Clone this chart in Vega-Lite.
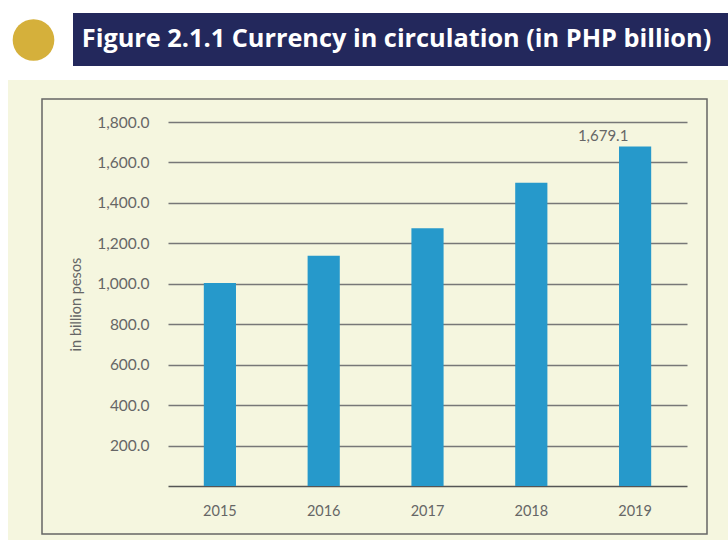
{
  "$schema": "https://vega.github.io/schema/vega-lite/v6.json",
  "background": "#f5f6df",
  "padding": 0,
  "spacing": 0,
  "config": {"view": {"stroke": null}, "font": "Lato"},
  "vconcat": [
    {
      "spacing": 0,
      "hconcat": [
        {
          "data": {"values": [{"item": "marker"}]},
          "mark": {"type": "point", "shape": "circle", "filled": true, "color": "#d5b03b", "opacity": 1, "size": 1735},
          "width": 67,
          "height": 80,
          "view": {"fill": "white", "stroke": null}
        },
        {
          "spacing": 0,
          "vconcat": [
            {
              "data": {"values": [{}]},
              "mark": {"type": "text", "text": ""},
              "width": 661,
              "height": 13,
              "view": {"fill": "white", "stroke": null}
            },
            {
              "spacing": 0,
              "hconcat": [
                {
                  "data": {"values": [{}]},
                  "mark": {"type": "text", "text": ""},
                  "width": 6,
                  "height": 53,
                  "view": {"fill": "white", "stroke": null}
                },
                {
                  "data": {"values": [{"title": "Figure 2.1.1 Currency in circulation (in PHP billion)"}]},
                  "mark": {"type": "text", "color": "white", "font": "Open Sans", "fontWeight": "bold", "fontSize": 25.3, "baseline": "middle", "align": "center", "dx": -4, "dy": -1},
                  "encoding": {"text": {"field": "title"}},
                  "width": 655,
                  "height": 53,
                  "view": {"fill": "#23285c", "stroke": null}
                }
              ]
            },
            {
              "data": {"values": [{}]},
              "mark": {"type": "text", "text": ""},
              "width": 661,
              "height": 14,
              "view": {"fill": "white", "stroke": null}
            }
          ]
        }
      ]
    },
    {
      "spacing": 0,
      "hconcat": [
        {
          "data": {"values": [{}]},
          "mark": {"type": "text", "text": ""},
          "width": 8,
          "height": 460,
          "view": {"fill": "white", "stroke": null}
        },
        {
          "data": {"values": [{}]},
          "mark": {"type": "text", "text": ""},
          "width": 33,
          "height": 460,
          "view": {"stroke": null}
        },
        {
          "spacing": 0,
          "vconcat": [
            {
              "data": {"values": [{}]},
              "mark": {"type": "text", "text": ""},
              "width": 665,
              "height": 18,
              "view": {"stroke": null}
            },
            {
              "data": {"values": [
                {"year": "2015", "value": 1004},
                {"year": "2016", "value": 1138},
                {"year": "2017", "value": 1275},
                {"year": "2018", "value": 1499},
                {"year": "2019", "value": 1679.1}
              ]},
              "width": 665,
              "height": 435,
              "view": {"stroke": "#666666", "strokeWidth": 1.5, "fill": null},
              "encoding": {
                "x": {
                  "field": "year",
                  "type": "ordinal",
                  "scale": {"range": [126, 645], "paddingInner": 0.69, "paddingOuter": 0.345},
                  "axis": {
                    "title": null,
                    "labelAngle": 0,
                    "offset": -48,
                    "domainColor": "#555555",
                    "domainWidth": 1.5,
                    "ticks": false,
                    "tickSize": 0,
                    "labelPadding": 18,
                    "labelFontSize": 14.5,
                    "labelColor": "#666666",
                    "grid": false
                  }
                },
                "y": {
                  "field": "value",
                  "type": "quantitative",
                  "scale": {"domain": [0, 1800], "range": [387, 23], "nice": false},
                  "axis": {
                    "title": "in billion pesos",
                    "values": [200, 400, 600, 800, 1000, 1200, 1400, 1600, 1800],
                    "format": ",.1f",
                    "offset": -126,
                    "domain": false,
                    "ticks": false,
                    "tickSize": 0,
                    "labelPadding": 19,
                    "labelFontSize": 15.5,
                    "labelColor": "#666666",
                    "grid": true,
                    "gridColor": "#777777",
                    "gridWidth": 1.5,
                    "titleFontSize": 14.5,
                    "titleFontWeight": "normal",
                    "titleColor": "#666666",
                    "titlePadding": 13
                  }
                }
              },
              "layer": [
                {"mark": {"type": "bar", "color": "#2699cb"}},
                {
                  "transform": [{"filter": "datum.year == '2019'"}],
                  "mark": {"type": "text", "dx": -32, "dy": -5, "baseline": "alphabetic", "align": "center", "fontSize": 15, "color": "#666666"},
                  "encoding": {"text": {"field": "value", "type": "quantitative", "format": ",.1f"}}
                }
              ]
            },
            {
              "data": {"values": [{}]},
              "mark": {"type": "text", "text": ""},
              "width": 665,
              "height": 7,
              "view": {"stroke": null}
            }
          ]
        },
        {
          "data": {"values": [{}]},
          "mark": {"type": "text", "text": ""},
          "width": 22,
          "height": 460,
          "view": {"stroke": null}
        }
      ]
    }
  ]
}
